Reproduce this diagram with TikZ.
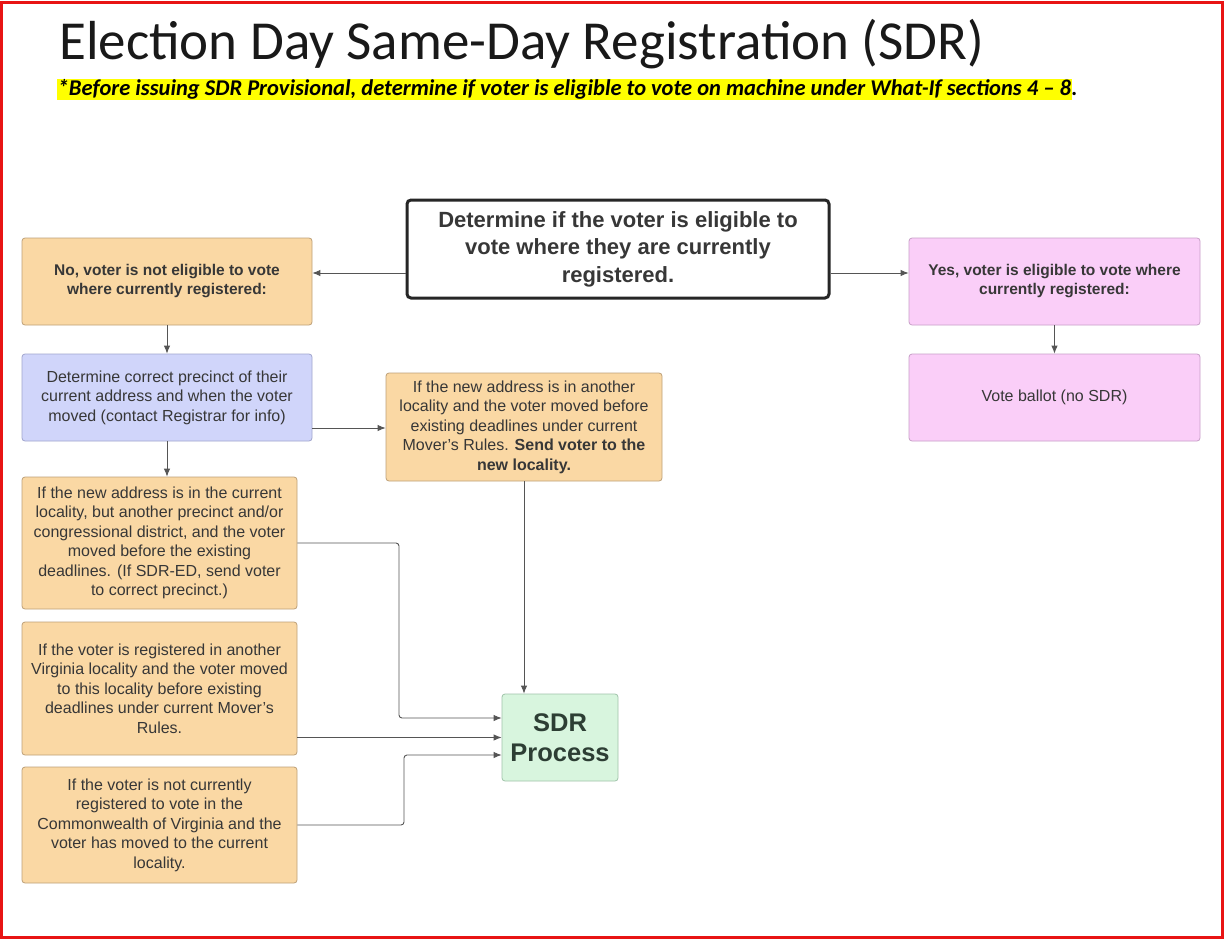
\documentclass[tikz,border=0pt]{standalone}
\usepackage{fontspec}
\setmainfont{Liberation Sans}
\newfontfamily\titlefont{Carlito}
\usetikzlibrary{arrows.meta}
\definecolor{orfill}{RGB}{250,216,164}
\definecolor{ordraw}{RGB}{190,160,120}
\definecolor{blfill}{RGB}{208,213,250}
\definecolor{bldraw}{RGB}{160,165,205}
\definecolor{pkfill}{RGB}{250,206,248}
\definecolor{pkdraw}{RGB}{200,160,200}
\definecolor{grfill}{RGB}{216,245,222}
\definecolor{grdraw}{RGB}{160,195,170}
\definecolor{grtxt}{RGB}{45,62,52}
\definecolor{txt}{RGB}{55,55,55}
\definecolor{linec}{RGB}{85,85,85}
\definecolor{frame}{RGB}{232,20,20}
\definecolor{hl}{RGB}{255,255,0}
\begin{document}
\begin{tikzpicture}[x=1pt,y=-1pt,
  box/.style={rounded corners=3pt, align=center, text=txt, inner sep=2pt,
    font=\fontsize{16}{19.5}\selectfont, line width=0.8pt},
  orbox/.style={box, draw=ordraw, fill=orfill},
  blbox/.style={box, draw=bldraw, fill=blfill},
  pkbox/.style={box, draw=pkdraw, fill=pkfill},
  grbox/.style={box, draw=grdraw, fill=grfill},
  arr/.style={draw=linec, line width=0.9pt, rounded corners=3pt,
    -{Latex[length=8pt,width=6.5pt]}}
]
\useasboundingbox (0,0) rectangle (1225,939);
\fill[white] (0,0) rectangle (1225,939);
\draw[frame, line width=3pt] (1.5,2.5) rectangle (1222,937.5);

% title
\node[anchor=base west, inner sep=0pt, text=black!90, font=\titlefont\fontsize{55}{60}\selectfont] (title) at (59,60) {Election Day Same-Day Registration (SDR)};
\setlength\fboxsep{0.5pt}
\node[anchor=base west, inner sep=0pt, font=\titlefont\bfseries\itshape\fontsize{22.5}{26}\selectfont] (sub) at (57,96)
  {\colorbox{hl}{*Before issuing SDR Provisional, determine if voter is eligible to vote on machine under What-If sections 4 – 8}.};

% nodes
\node[box, draw=black!85, fill=white, line width=3pt, rounded corners=4pt,
  minimum width=422pt, minimum height=98pt,
  font=\bfseries\fontsize{22}{27.5}\selectfont] (top) at (618,249)
  {Determine if the voter is eligible to\\vote where they are currently\\registered.};

\node[orbox, minimum width=290pt, minimum height=87pt, font=\bfseries\fontsize{15.5}{19}\selectfont] (no) at (167,281.5)
  {No, voter is not eligible to vote\\where currently registered:};
\node[pkbox, minimum width=291pt, minimum height=87pt, font=\bfseries\fontsize{15.5}{19}\selectfont] (yes) at (1054.5,281.5)
  {Yes, voter is eligible to vote where\\currently registered:};
\node[pkbox, minimum width=291pt, minimum height=87pt] (vote) at (1054.5,397.5)
  {Vote ballot (no SDR)};
\node[blbox, minimum width=290pt, minimum height=87pt] (det) at (167,397.5)
  {Determine correct precinct of their\\current address and when the voter\\moved (contact Registrar for info)};
\node[orbox, minimum width=276pt, minimum height=108pt] (another) at (524,427)
  {If the new address is in another\\locality and the voter moved before\\existing deadlines under current\\Mover's Rules. \textbf{Send voter to the}\\\textbf{new locality.}};
\node[orbox, minimum width=275pt, minimum height=132pt] (cur) at (159.5,543)
  {If the new address is in the current\\locality, but another precinct and/or\\congressional district, and the voter\\moved before the existing\\deadlines. (If SDR-ED, send voter\\to correct precinct.)};
\node[orbox, minimum width=275pt, minimum height=133pt] (va) at (159.5,688.5)
  {If the voter is registered in another\\Virginia locality and the voter moved\\to this locality before existing\\deadlines under current Mover's\\Rules.};
\node[orbox, minimum width=275pt, minimum height=116pt] (notreg) at (159.5,825)
  {If the voter is not currently\\registered to vote in the\\Commonwealth of Virginia and the\\voter has moved to the current\\locality.};
\node[grbox, minimum width=116pt, minimum height=87pt, text=grtxt,
  font=\bfseries\fontsize{25.5}{30}\selectfont] (sdr) at (560,737.5)
  {SDR\\Process};

% connectors
\draw[arr] (top.west |- 0,273) -- (no.east |- 0,273);
\draw[arr] (top.east |- 0,273) -- (yes.west |- 0,273);
\draw[arr] (no.south) -- (det.north);
\draw[arr] (yes.south) -- (vote.north);
\draw[arr] (det.east |- 0,428) -- (another.west |- 0,428);
\draw[arr] (det.south) -- (det.south |- cur.north);
\draw[arr] (another.south) -- (another.south |- sdr.north);
\draw[arr] (cur.east) -- (399,543) -- (399,718) -- (sdr.west |- 0,718);
\draw[arr] (va.east |- 0,737.5) -- (sdr.west |- 0,737.5);
\draw[arr] (notreg.east) -- (404,825) -- (404,755) -- (sdr.west |- 0,755);
\end{tikzpicture}
\end{document}
